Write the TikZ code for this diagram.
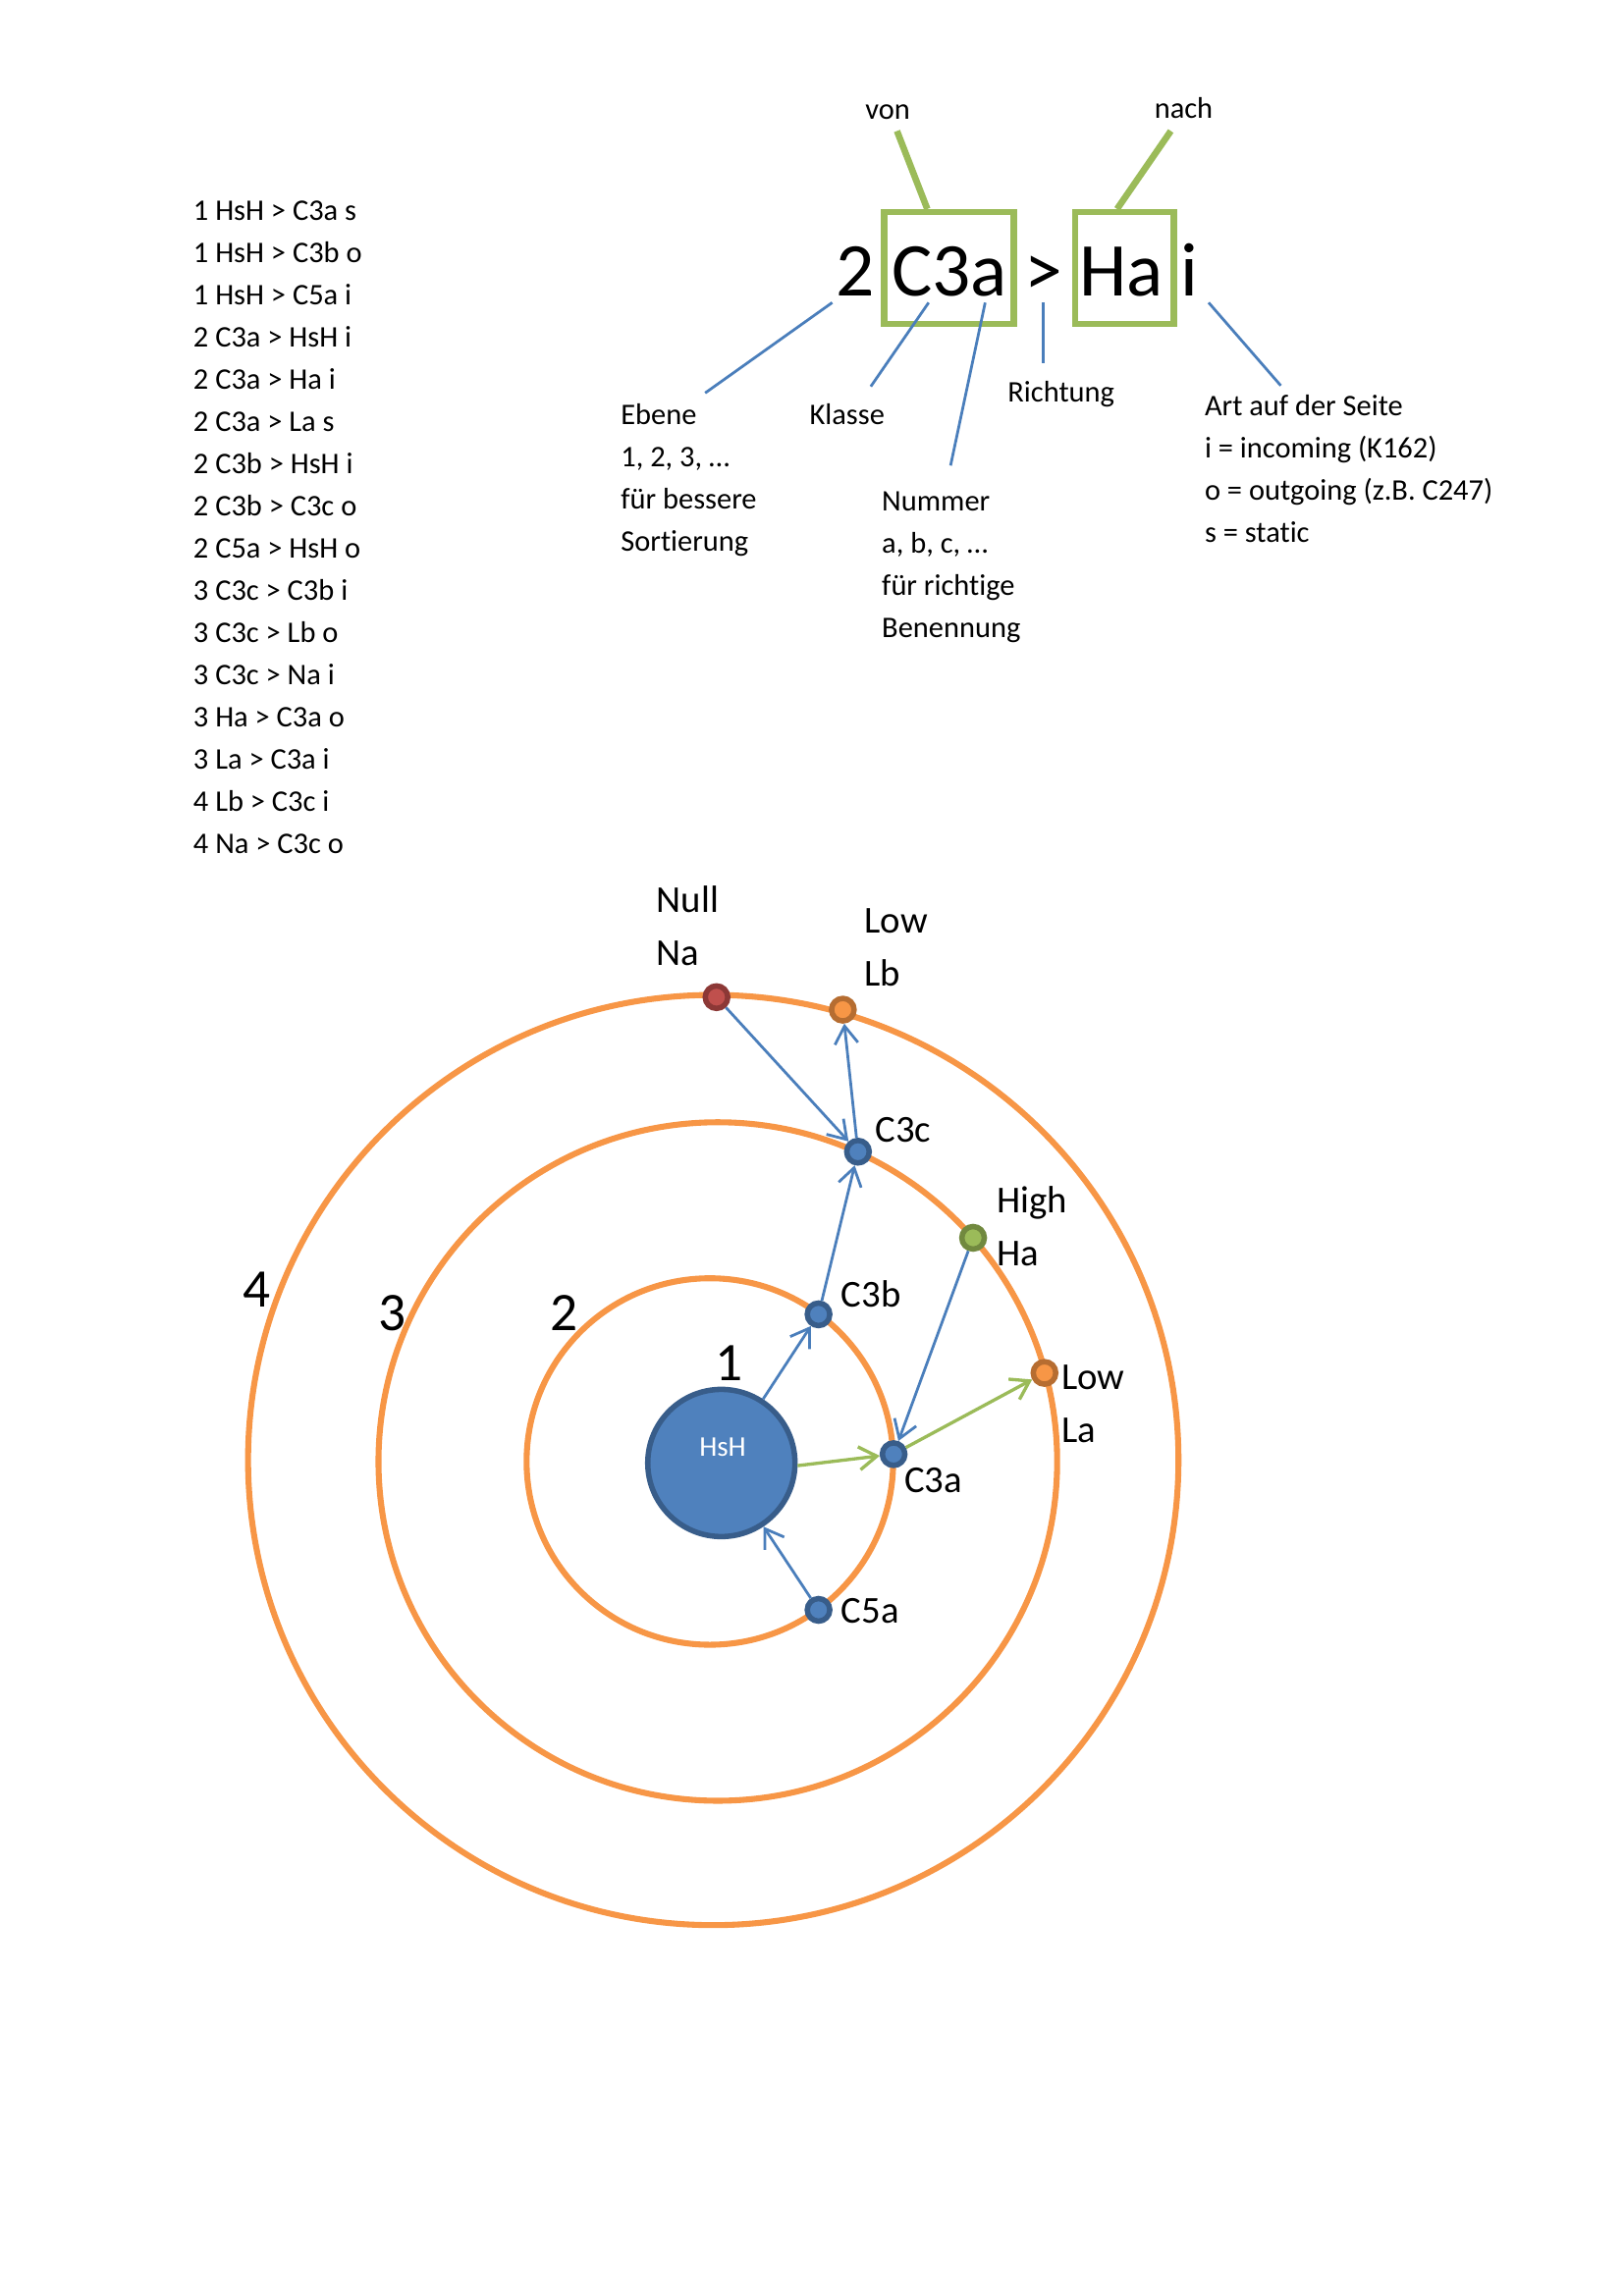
\documentclass[tikz,border=0pt]{standalone}
\usepackage{fontspec}
\setmainfont{Carlito}[Ligatures=NoCommon]
\usetikzlibrary{arrows.meta,fit,calc}
\definecolor{orng}{HTML}{F79646}
\definecolor{dorng}{HTML}{B66D31}
\definecolor{fblue}{HTML}{4F81BD}
\definecolor{dblue}{HTML}{385D8A}
\definecolor{ablue}{HTML}{4A7EBB}
\definecolor{grn}{HTML}{9BBB59}
\definecolor{dgrn}{HTML}{71893F}
\definecolor{fred}{HTML}{C0504D}
\definecolor{dred}{HTML}{8C3836}
\def\u{0.019039cm}
\begin{document}
\begin{tikzpicture}[x=0.019039cm,y=-0.019039cm,
  lst/.style={anchor=base west, inner sep=0pt, font=\fontsize{11}{13}\selectfont},
  lbl/.style={anchor=base west, inner sep=0pt, font=\fontsize{14}{17}\selectfont},
  ringnum/.style={anchor=base west, inner sep=0pt, font=\fontsize{20}{24}\selectfont},
  ring/.style={circle, draw=orng, line width=2.2pt, inner sep=0pt},
  dot/.style={circle, inner sep=0pt, minimum size=8.3pt, line width=2pt},
  bdot/.style={dot, fill=fblue, draw=dblue},
  rdot/.style={dot, fill=fred, draw=dred},
  odot/.style={dot, fill=orng, draw=dorng},
  gdot/.style={dot, fill=grn, draw=dgrn},
  hub/.style={circle, inner sep=0pt, minimum size=100*\u, fill=fblue, draw=dblue, line width=2pt},
  tip/.style={-{Straight Barb[length=6.5pt,width=8.5pt]}},
  barr/.style={draw=ablue, line width=1pt, tip},
  garr/.style={draw=grn, line width=1.2pt, tip},
  cline/.style={draw=ablue, line width=1pt},
  gline/.style={draw=grn, line width=2.4pt},
  gbox/.style={draw=grn, line width=2.3pt, inner sep=0pt}
]
\useasboundingbox (0,0) rectangle (1103,1560);

% ---- list ----
\foreach \t [count=\i] in {1 HsH > C3a s,1 HsH > C3b o,1 HsH > C5a i,2 C3a > HsH i,2 C3a > Ha i,2 C3a > La s,2 C3b > HsH i,2 C3b > C3c o,2 C5a > HsH o,3 C3c > C3b i,3 C3c > Lb o,3 C3c > Na i,3 Ha > C3a o,3 La > C3a i,4 Lb > C3c i,4 Na > C3c o}
  \node[lst] (list\i) at (131,{149.6+28.7*(\i-1)}) {\t};

% ---- legend formula ----
\node[anchor=base west, inner sep=0pt, font=\fontsize{28}{34}\selectfont] (formula) at (567.5,200.9) {2 C3a > Ha i};
\coordinate (bA1) at (600.7,144.1); \coordinate (bA2) at (688.5,220.2);
\coordinate (bB1) at (730.3,144.1); \coordinate (bB2) at (797.3,220.2);
\node[gbox, fit=(bA1)(bA2)] (boxC3a) {};
\node[gbox, fit=(bB1)(bB2)] (boxHa) {};

\node[lst, anchor=base] (von) at (603,80.8) {von};
\node[lst, anchor=base] (nach) at (804,80.3) {nach};
\coordinate (vonE) at (609.3,89);
\coordinate (nachE) at (795.3,89);
\draw[gline] (vonE) -- ($(boxC3a.north west)!0.34!(boxC3a.north east)$);
\draw[gline] (nachE) -- ($(boxHa.north west)!0.43!(boxHa.north east)$);

\node[lst] (eb1) at (421.4,288.3) {Ebene};
\node[lst] (eb2) at (421.4,317.0) {1, 2, 3, …};
\node[lst] (eb3) at (421.4,345.7) {für bessere};
\node[lst] (eb4) at (421.4,374.4) {Sortierung};
\node[lst] (kl) at (549.6,288.3) {Klasse};
\node[lst] (nu1) at (598.7,347.4) {Nummer};
\node[lst] (nu2) at (598.7,376.1) {a, b, c, …};
\node[lst] (nu3) at (598.7,404.8) {für richtige};
\node[lst] (nu4) at (598.7,433.5) {Benennung};
\node[lst] (ri) at (684.2,273.2) {Richtung};
\node[lst] (ar1) at (818,282.7) {Art auf der Seite};
\node[lst] (ar2) at (818,311.4) {i = incoming (K162)};
\node[lst] (ar3) at (818,340.1) {o = outgoing (z.B. C247)};
\node[lst] (ar4) at (818,368.8) {s = static};

\coordinate (cEbA) at (565.3,205.6); \coordinate (cEbB) at (479,267);
\coordinate (cKlA) at (630.8,205.6); \coordinate (cKlB) at (591.5,262.6);
\coordinate (cNuA) at (669.2,205.6); \coordinate (cNuB) at (645.7,316.3);
\coordinate (cRiA) at (708.5,205.6); \coordinate (cRiB) at (708.5,246.7);
\coordinate (cArA) at (821,205.6);   \coordinate (cArB) at (870,262);
\draw[cline] (cEbA) -- (cEbB);
\draw[cline] (cKlA) -- (cKlB);
\draw[cline] (cNuA) -- (cNuB);
\draw[cline] (cRiA) -- (cRiB);
\draw[cline] (cArA) -- (cArB);

% ---- rings ----
\node[ring, minimum size=632*\u] (ring4) at (484.5,992) {};
\node[ring, minimum size=461*\u] (ring3) at (487.6,993) {};
\node[ring, minimum size=249*\u] (ring2) at (482.2,993) {};

\node[ringnum] (n4) at (165,888.1) {4};
\node[ringnum] (n3) at (256.8,904) {3};
\node[ringnum] (n2) at (373.4,904) {2};
\node[ringnum] (n1) at (485.3,938) {1};

% ---- nodes ----
\node[hub] (HsH) at (490,994) {};
\node[anchor=base, inner sep=0pt, text=white, font=\fontsize{10.5}{12}\selectfont] (HsHtxt) at (490.9,989.6) {HsH};
\node[rdot] (Na) at (486.7,677.5) {};
\node[odot] (Lb) at (572.5,686) {};
\node[bdot] (C3c) at (582.8,782.5) {};
\node[gdot] (Ha) at (661,841) {};
\node[bdot] (C3b) at (556,893) {};
\node[odot] (La) at (709.5,932.8) {};
\node[bdot] (C3a) at (607,988) {};
\node[bdot] (C5a) at (556,1093.8) {};

% ---- labels ----
\node[lbl] (tNull) at (445.7,619.6) {Null};
\node[lbl] (tNa) at (445.7,655.9) {Na};
\node[lbl] (tLow1) at (586.9,634) {Low};
\node[lbl] (tLb) at (586.9,669.9) {Lb};
\node[lbl] (tC3c) at (594.3,775.7) {C3c};
\node[lbl] (tHigh) at (676.6,823.8) {High};
\node[lbl] (tHa) at (676.6,860.1) {Ha};
\node[lbl] (tC3b) at (571.1,888.1) {C3b};
\node[lbl] (tLow2) at (720.7,944.1) {Low};
\node[lbl] (tLa) at (720.7,980) {La};
\node[lbl] (tC3a) at (613.9,1014) {C3a};
\node[lbl] (tC5a) at (571.1,1102.5) {C5a};

% ---- arrows ----
\draw[barr] (HsH) -- (C3b);
\draw[barr] (C5a) -- (HsH);
\draw[garr] (HsH.-2) -- (C3a);
\draw[garr] (C3a) -- (La);
\draw[barr] (Ha) -- (C3a);
\draw[barr] (C3b) -- (C3c);
\draw[barr] (Na) -- (C3c);
\draw[barr] (C3c) -- (Lb);
\end{tikzpicture}
\end{document}
